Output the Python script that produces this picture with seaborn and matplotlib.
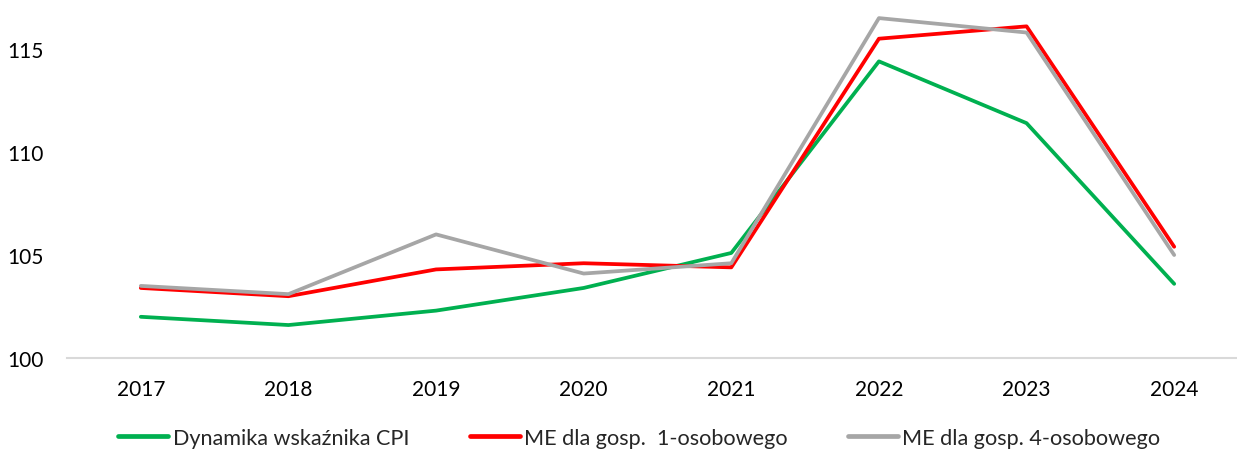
import matplotlib
matplotlib.use("Agg")
import matplotlib.pyplot as plt
import seaborn as sns
import pandas as pd

years = ["2017", "2018", "2019", "2020", "2021", "2022", "2023", "2024"]
cpi = [102.0, 101.6, 102.3, 103.4, 105.1, 114.4, 111.4, 103.6]
me1 = [103.4, 103.0, 104.3, 104.6, 104.4, 115.5, 116.1, 105.4]
me4 = [103.5, 103.1, 106.0, 104.1, 104.6, 116.5, 115.8, 105.0]
series_names = ["Dynamika wskaźnika CPI", "ME dla gosp.  1-osobowego", "ME dla gosp. 4-osobowego"]
colors = ["#00B050", "#FF0000", "#A6A6A6"]
yticks = [100, 105, 110, 115]

rows = []
for name, vals in zip(series_names, [cpi, me1, me4]):
    for y, v in zip(years, vals):
        rows.append({"year": y, "value": v, "series": name})
df = pd.DataFrame(rows)

sns.set_theme(style="white")
plt.rcParams["font.family"] = ["Lato", "DejaVu Sans"]

fig = plt.figure(figsize=(12.37, 4.52), dpi=100)
ax = fig.add_axes([67 / 1237, 1 - 359 / 452, 1181 / 1237, 359 / 452])

sns.lineplot(data=df, x="year", y="value", hue="series", hue_order=series_names,
             palette=colors, linewidth=2.7, ax=ax, legend=False, sort=False)

ax.set_xlim(-0.5, 7.5)
ax.set_ylim(100, 100 + 359 / 20.6)
ax.set_yticks(yticks)
ax.set_xlabel("")
ax.set_ylabel("")
for s in ["top", "right", "left"]:
    ax.spines[s].set_visible(False)
ax.spines["bottom"].set_color("#D9D9D9")
ax.spines["bottom"].set_linewidth(1.5)
ax.spines["bottom"].set_zorder(0)
ax.tick_params(axis="both", length=0, labelsize=15, colors="#000000")
ax.tick_params(axis="y", pad=17)
ax.tick_params(axis="x", pad=15)
ax.grid(False)

handles = [plt.Line2D([], [], color=c, linewidth=3.4) for c in colors]
fig.legend(handles, series_names, loc="center", bbox_to_anchor=(0.517, 1 - 439 / 452),
           ncol=3, frameon=False, fontsize=15.6, handlelength=2.3, handletextpad=0.2,
           columnspacing=2.8, borderpad=0.1)

fig.savefig("out.png", dpi=100)
